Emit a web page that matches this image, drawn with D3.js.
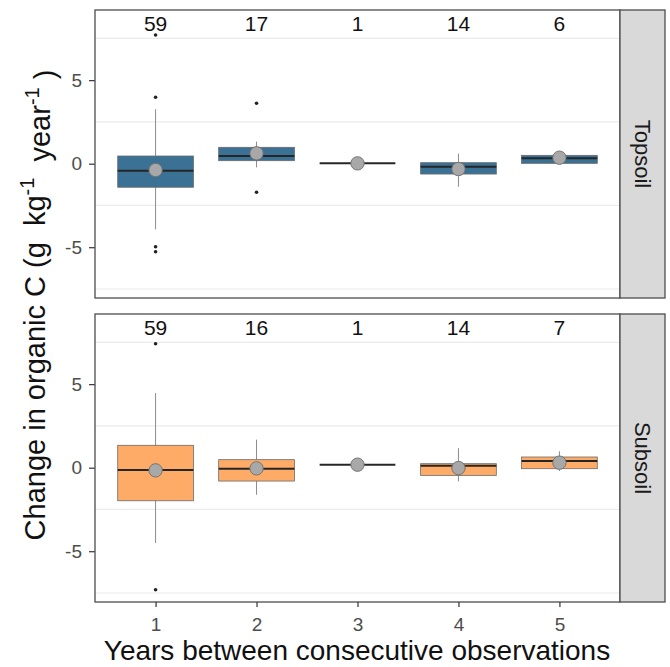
<!DOCTYPE html>
<html>
<head>
<meta charset="utf-8">
<script src="https://cdn.jsdelivr.net/npm/d3@7"></script>
<style>
  body { margin: 0; background: #fff; }
  text { font-family: "Liberation Sans", Arial, sans-serif; }
</style>
</head>
<body>
<svg id="chart" width="670" height="667"></svg>
<script>
// data
let years = [1, 2, 3, 4, 5];
let layers = ['Topsoil', 'Subsoil'];
let layerColors = ['#3a7194', '#fdab67'];

let topCounts = [59, 17, 1, 14, 6];
let topLow = [-3.93, -0.22, 0.02, -1.38, 0.0];
let topQ1 = [-1.41, 0.18, 0.02, -0.62, 0.02];
let topMedian = [-0.42, 0.46, 0.02, -0.18, 0.32];
let topQ3 = [0.46, 0.98, 0.02, 0.06, 0.5];
let topHigh = [3.26, 1.32, 0.02, 0.6, 0.55];
let topMean = [-0.38, 0.62, 0.02, -0.32, 0.36];
let topOutliers = [[3.98, 7.7, -4.97, -5.27], [3.62, -1.71], [], [], []];

let subCounts = [59, 16, 1, 14, 7];
let subLow = [-4.51, -1.62, 0.18, -0.82, -0.2];
let subQ1 = [-1.98, -0.8, 0.18, -0.46, -0.06];
let subMedian = [-0.14, -0.06, 0.18, 0.12, 0.4];
let subQ3 = [1.34, 0.48, 0.18, 0.24, 0.64];
let subHigh = [4.47, 1.68, 0.18, 1.17, 0.98];
let subMean = [-0.16, -0.04, 0.18, -0.02, 0.3];
let subOutliers = [[7.42, -7.31], [], [], [], []];

let yTicks = [-5, 0, 5];
let yMinor = [-7.5, -2.5, 2.5, 7.5];
let labelY = 8.4;

function buildRows(counts, low, q1, med, q3, high, mean, outl) {
    return years.map(function (yr, i) {
        return {year: yr, n: counts[i], low: low[i], q1: q1[i], median: med[i],
            q3: q3[i], high: high[i], mean: mean[i], outliers: outl[i]};
    });
}

let panels = [
    buildRows(topCounts, topLow, topQ1, topMedian, topQ3, topHigh, topMean, topOutliers),
    buildRows(subCounts, subLow, subQ1, subMedian, subQ3, subHigh, subMean, subOutliers)
];

let svg = d3.select('#chart');

let left = 95, right = 620, stripW = 45;
let panelTops = [10, 314];
let panelH = 288;

// discrete x: 0.6 units of padding each side, like ggplot
let unit = (right - left) / 5.2;
let xPoint = d3.scalePoint()
    .domain(years)
    .range([left + 0.6 * unit, right - 0.6 * unit]);
let boxW = 0.75 * unit;

panels.forEach(function (rows, p) {
    let top = panelTops[p];
    let yScale = d3.scaleLinear()
        .domain([-8.04, 9.2])
        .range([top + panelH, top]);

    let g = svg.append('g');

    g.append('rect')
        .attr('x', left).attr('y', top)
        .attr('width', right - left).attr('height', panelH)
        .attr('fill', '#fff');

    // only minor grid lines show
    g.selectAll('.grid')
        .data(yMinor)
        .enter().append('line')
        .attr('x1', left).attr('x2', right)
        .attr('y1', d => yScale(d)).attr('y2', d => yScale(d))
        .attr('stroke', '#ebebeb')
        .attr('stroke-width', 1.2);

    // y axis
    let yAxis = d3.axisLeft(yScale).tickValues(yTicks).tickSize(6).tickPadding(7)
        .tickFormat(d3.format('d'));
    let ya = g.append('g')
        .attr('transform', 'translate(' + left + ',0)')
        .call(yAxis);
    ya.select('.domain').remove();
    ya.selectAll('line').attr('stroke', '#333').attr('stroke-width', 1.2);
    ya.selectAll('text')
        .attr('fill', '#4d4d4d')
        .style('font-size', '19px')
        .text(d => d < 0 ? '-' + Math.abs(d) : d);

    let box = g.selectAll('.box')
        .data(rows)
        .enter().append('g')
        .attr('class', 'box');

    // whiskers
    box.append('line')
        .attr('x1', d => xPoint(d.year)).attr('x2', d => xPoint(d.year))
        .attr('y1', d => yScale(d.high)).attr('y2', d => yScale(d.low))
        .attr('stroke', '#8c8c8c')
        .attr('stroke-width', 1);

    box.append('rect')
        .attr('x', d => xPoint(d.year) - boxW / 2)
        .attr('y', d => yScale(d.q3))
        .attr('width', boxW)
        .attr('height', d => yScale(d.q1) - yScale(d.q3))
        .attr('fill', layerColors[p])
        .attr('stroke', '#6b6b6b')
        .attr('stroke-width', 0.8);

    box.append('line')
        .attr('x1', d => xPoint(d.year) - boxW / 2)
        .attr('x2', d => xPoint(d.year) + boxW / 2)
        .attr('y1', d => yScale(d.median)).attr('y2', d => yScale(d.median))
        .attr('stroke', '#262626')
        .attr('stroke-width', 2);

    // outliers
    box.each(function (d) {
        d3.select(this).selectAll('.out')
            .data(d.outliers)
            .enter().append('circle')
            .attr('cx', xPoint(d.year))
            .attr('cy', v => yScale(v))
            .attr('r', 1.8)
            .attr('fill', '#222');
    });

    // means
    box.append('circle')
        .attr('cx', d => xPoint(d.year))
        .attr('cy', d => yScale(d.mean))
        .attr('r', 6.7)
        .attr('fill', '#a8a8a8')
        .attr('stroke', '#6e6e6e')
        .attr('stroke-width', 0.9);

    // counts
    g.selectAll('.count')
        .data(rows)
        .enter().append('text')
        .attr('x', d => xPoint(d.year))
        .attr('y', yScale(labelY))
        .attr('dy', '0.35em')
        .attr('text-anchor', 'middle')
        .attr('fill', '#111')
        .style('font-size', '21px')
        .text(d => d.n);

    // panel border
    g.append('rect')
        .attr('x', left).attr('y', top)
        .attr('width', right - left).attr('height', panelH)
        .attr('fill', 'none')
        .attr('stroke', '#4d4d4d')
        .attr('stroke-width', 1.3);

    // strip
    g.append('rect')
        .attr('x', right).attr('y', top)
        .attr('width', stripW).attr('height', panelH)
        .attr('fill', '#d9d9d9')
        .attr('stroke', '#4d4d4d')
        .attr('stroke-width', 1.3);
    g.append('text')
        .attr('transform', 'translate(' + (right + stripW / 2) + ',' + (top + panelH / 2) + ') rotate(90)')
        .attr('text-anchor', 'middle')
        .attr('dy', '0.35em')
        .attr('fill', '#1a1a1a')
        .style('font-size', '22px')
        .text(layers[p]);

    // x axis on bottom panel
    if (p === panels.length - 1) {
        let xAxis = d3.axisBottom(xPoint).tickSize(5).tickPadding(11);
        let xa = g.append('g')
            .attr('transform', 'translate(0,' + (top + panelH) + ')')
            .call(xAxis);
        xa.select('.domain').remove();
        xa.selectAll('line').attr('stroke', '#333').attr('stroke-width', 1.2);
        xa.selectAll('text')
            .attr('fill', '#4d4d4d')
            .style('font-size', '19px');
    }
});

// axis titles
svg.append('text')
    .attr('x', 357)
    .attr('y', 660)
    .attr('text-anchor', 'middle')
    .attr('fill', '#111')
    .style('font-size', '28px')
    .text('Years between consecutive observations');

let yTitle = svg.append('text')
    .attr('transform', 'translate(45,305) rotate(-90)')
    .attr('text-anchor', 'middle')
    .attr('fill', '#111')
    .style('font-size', '29px')
    .style('white-space', 'pre');
yTitle.append('tspan').text('Change in organic C (g  kg');
yTitle.append('tspan').attr('dy', '-0.55em').style('font-size', '20px').text('-1');
yTitle.append('tspan').attr('dy', '0.55em').text('  year');
yTitle.append('tspan').attr('dy', '-0.55em').style('font-size', '20px').text('-1');
yTitle.append('tspan').attr('dy', '0.55em').text(' )');
</script>
</body>
</html>
